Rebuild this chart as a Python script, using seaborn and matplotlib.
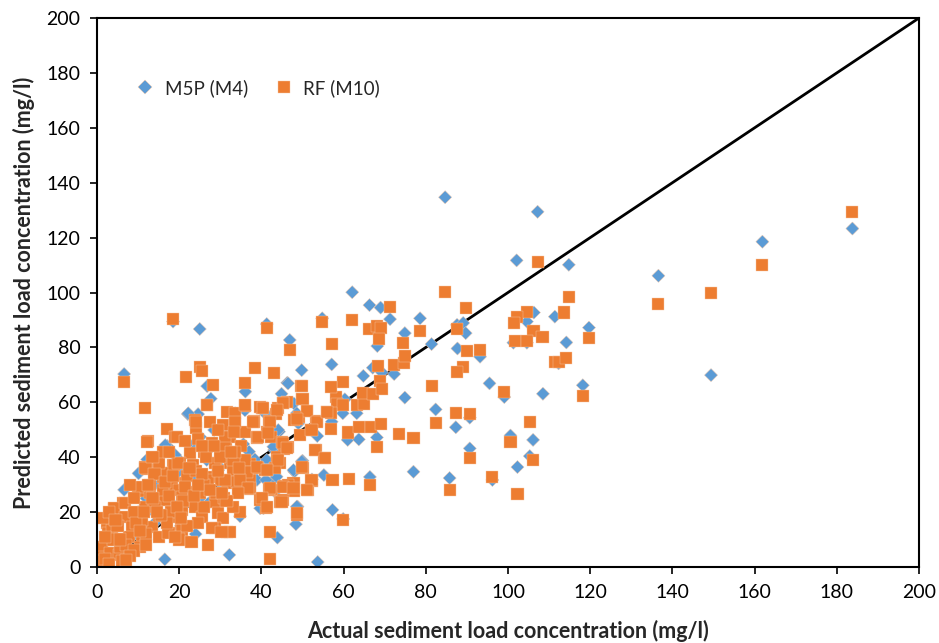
import matplotlib
matplotlib.use("Agg")
import matplotlib.pyplot as plt
import pandas as pd
import seaborn as sns

# M5P (M4) predictions (actual, predicted)
m5p_actual = [
    136.6, 149.4, 161.9, 183.8,
    84.7, 107.2, 102.1, 114.8, 78.6, 111.4, 106.3, 104.6, 119.7, 101.3, 104.6, 114.2,
    112.3, 118.2, 108.5, 95.5, 99.1, 82.4, 87.3, 90.7, 100.6, 106.1, 105.3, 90.7,
    102.3, 85.8, 96.2, 87.6, 89.1, 89.7, 81.4, 87.7, 93.2,
    62.1, 66.3, 69.0, 71.3, 41.3, 54.8, 68.2, 74.9, 46.9, 49.8, 57.1, 46.3, 44.9,
    47.9, 40.7, 44.3, 43.3, 53.6, 57.1, 60.3, 59.8, 63.2, 64.8, 67.1, 69.3, 72.3,
    74.9, 61.0, 63.7, 68.1, 77.0, 50.0, 55.2, 66.4, 52.3, 48.0, 38.9, 42.9, 40.5,
    48.8, 48.4, 57.3, 59.9, 43.9, 53.7, 38.4, 42.1, 43.1, 41.1,
    18.5, 25.0, 6.6, 26.8, 36.1, 27.7, 36.0, 22.1, 24.6, 28.5, 25.1, 17.1, 22.6,
    27.9, 35.6, 19.2, 12.2, 10.1, 27.1, 34.8, 32.2, 16.5, 20.4, 6.6, 7.6, 29.5,
    16.6, 3.3, 13.8, 18.2, 22.2, 33.6, 22.2, 26.7, 39.7, 20.6, 23.8, 29.5, 19.0,
    46.5, 40.9, 48.6, 44.1, 42.9, 41.3, 49.8, 47.8, 43.7, 43.3, 48.6, 49.0,
    9.0, 12.0, 15.0, 5.0, 2.0, 25.0, 30.0, 35.0, 14.0, 32.0, 37.0, 20.0, 10.0, 24.0,
]
m5p_pred = [
    106.1, 69.9, 118.5, 123.3,
    134.7, 129.4, 111.7, 110.1, 90.6, 91.2, 92.7, 89.4, 87.2, 81.7, 81.7, 81.8,
    74.2, 66.2, 63.1, 66.9, 61.9, 57.4, 50.9, 54.4, 47.9, 46.3, 40.4, 43.2,
    36.4, 32.4, 31.7, 88.2, 88.9, 85.2, 81.2, 79.6, 76.6,
    100.1, 95.4, 94.5, 90.3, 88.5, 90.6, 80.5, 85.2, 82.7, 71.7, 73.8, 67.1, 63.1,
    59.6, 56.4, 49.3, 43.8, 47.7, 52.9, 61.1, 56.0, 56.0, 69.6, 72.6, 70.9, 70.3,
    61.7, 46.3, 46.5, 47.2, 34.7, 38.7, 33.5, 32.8, 31.9, 34.7, 31.7, 31.7, 21.4,
    22.0, 15.6, 20.8, 17.5, 10.7, 1.8, 39.2, 37.8, 42.6, 31.7,
    89.4, 86.7, 70.3, 65.9, 63.9, 61.3, 57.1, 55.7, 55.7, 49.9, 47.4, 44.1, 44.1,
    43.8, 44.8, 40.2, 39.2, 34.1, 23.2, 18.5, 4.4, 2.8, 15.0, 28.1, 5.0, 37.0,
    44.4, 16.0, 20.1, 23.2, 56.0, 56.0, 45.1, 39.0, 21.4, 15.9, 32.3, 35.3, 40.8,
    66.9, 56.0, 56.0, 49.9, 43.8, 39.0, 38.4, 35.3, 32.9, 27.4, 22.0, 52.3,
    12.0, 25.0, 30.0, 10.0, 6.0, 25.0, 28.0, 35.0, 16.0, 40.0, 42.0, 35.0, 20.0, 12.0,
]

# RF (M10) predictions (actual, predicted)
rf_actual = [
    136.6, 149.4, 161.9, 183.8,
    107.2, 84.7, 114.8, 89.7, 78.6, 113.6, 104.6, 102.1, 101.4, 119.8, 106.2, 108.4,
    101.8, 104.6, 111.4, 112.5, 114.2, 118.2, 99.1, 81.5, 82.5, 87.3, 90.7, 105.4,
    100.6, 106.1, 90.7, 85.8, 96.2, 102.3, 87.6, 90.1, 93.2, 89.1, 87.7,
    71.3, 41.4, 54.8, 62.0, 66.3, 68.2, 69.2, 68.6, 74.5, 46.9, 57.1, 38.5, 43.1,
    49.7, 49.9, 46.3, 45.2, 44.0, 40.1, 43.6, 51.2, 49.2, 48.0, 53.4, 41.9, 38.3,
    52.1, 49.4, 41.3, 42.4, 39.0, 45.1, 46.4, 45.6, 56.0, 56.9, 58.1, 58.3, 59.9,
    59.8, 56.9, 56.9, 63.2, 65.0, 64.8, 67.2, 68.4, 68.9, 69.4, 72.3, 74.7, 74.9,
    61.1, 63.7, 66.6, 69.0, 68.2, 73.5, 77.0, 50.0, 53.2, 55.3, 57.3, 61.4, 66.4,
    52.3, 51.3, 47.8, 47.8, 45.6, 42.6, 41.8, 40.1, 41.1, 44.5, 45.3, 48.6, 59.9,
    42.1, 42.1, 37.3, 41.3, 43.7, 44.5, 43.3, 37.3, 37.3, 46.5,
    18.5, 6.6, 25.1, 25.5, 21.7, 28.2, 36.1, 26.8, 36.0, 40.2, 11.7, 23.9, 24.1,
    27.5, 31.7, 33.6, 38.2, 30.7, 33.5, 17.0, 19.1, 36.0, 38.9, 12.4, 22.6, 31.4,
    32.4, 23.4, 12.1, 11.7, 18.4, 20.2, 17.8, 16.1, 29.0, 32.4, 33.2, 36.0, 39.2,
    40.9, 27.5, 30.3, 31.6, 34.0, 36.4, 37.2, 28.7, 29.5, 30.7, 34.8, 28.7, 31.6,
    32.4, 20.4, 4.2, 6.4, 10.3,
    12.2, 11.8, 10.1, 13.0, 17.0, 18.7, 18.2, 4.1, 6.9, 6.9, 8.5, 7.7, 10.9, 10.5,
    13.4, 15.0, 17.4, 19.1, 15.0, 11.8, 11.0, 16.6, 19.9, 2.4, 2.8, 2.4, 1.2, 0.8,
    3.2, 5.3, 5.7, 3.6,
    26.8, 36.0, 39.7, 24.0, 33.6, 19.4, 24.6, 31.1, 33.4, 31.1, 33.2, 28.7, 19.8,
    27.1, 31.1, 34.8, 36.8, 21.4, 23.8, 20.6, 34.4, 23.8, 20.6, 25.5, 20.6, 24.6,
    27.9, 30.3, 39.7,
    49.8, 50.0, 45.3, 40.3, 43.7, 51.0, 38.0, 42.1, 48.6, 53.5, 55.9, 39.2, 41.7,
    52.2, 45.3, 46.2, 53.0, 55.5, 44.1, 38.9, 41.3, 49.8, 52.2, 42.1, 45.3, 47.8,
    51.0, 40.1, 44.9, 41.3, 48.6,
    9.0, 12.0, 14.0, 16.0, 18.0, 21.0, 22.0, 25.0, 26.0, 13.0, 15.0, 9.0, 8.0, 24.0,
    26.0, 29.0, 31.0, 33.0, 20.0, 22.0, 17.0, 14.0, 26.0, 30.0, 35.0, 16.0, 28.0,
    5.0, 4.0, 7.0, 1.0, 2.0, 3.0, 6.0, 9.0, 12.0, 8.0,
    9.5, 11.5, 13.5, 15.5, 17.5, 19.5, 21.5, 23.5, 25.5, 27.5, 29.5, 31.5, 33.5,
    10.5, 12.5, 14.5, 16.5, 18.5, 20.5, 22.5, 24.5, 26.5, 28.5, 30.5, 32.5, 34.5,
    13.5, 17.5, 21.5, 25.5, 29.5, 19.0, 23.0, 27.0, 1.5, 3.0, 4.5, 2.0, 5.5, 7.0,
]
rf_pred = [
    95.7, 99.7, 110.1, 129.2,
    111.0, 100.1, 98.5, 94.5, 85.9, 92.7, 92.9, 91.2, 88.8, 83.3, 86.1, 83.9,
    82.4, 82.4, 74.8, 74.8, 76.0, 62.3, 63.6, 65.9, 52.6, 56.1, 55.7, 52.9,
    45.4, 39.0, 39.6, 28.2, 32.8, 26.6, 86.7, 78.6, 78.9, 73.0, 71.2,
    94.6, 87.0, 89.4, 90.1, 86.6, 87.8, 87.1, 82.9, 81.5, 79.2, 81.2, 72.4, 70.8,
    65.8, 61.2, 60.1, 59.9, 57.8, 57.9, 55.6, 56.9, 54.8, 53.7, 53.3, 53.2, 53.1,
    49.9, 48.1, 49.3, 47.5, 47.1, 45.4, 43.8, 42.9, 56.6, 50.2, 62.0, 59.3, 59.0,
    67.5, 65.7, 56.2, 59.0, 59.3, 63.3, 63.0, 73.2, 67.8, 64.8, 73.6, 74.2, 76.9,
    49.0, 51.1, 51.1, 52.1, 43.8, 48.6, 47.1, 36.2, 42.6, 39.6, 31.8, 32.2, 30.0,
    31.4, 28.2, 30.5, 27.8, 29.5, 28.1, 28.3, 24.7, 21.6, 23.6, 24.4, 18.9, 17.1,
    12.9, 2.8, 37.5, 35.3, 40.2, 37.8, 36.0, 31.8, 28.5, 29.9,
    90.3, 67.3, 73.0, 71.3, 69.3, 66.4, 66.9, 58.9, 58.7, 58.0, 57.8, 53.5, 50.5,
    52.7, 56.4, 56.0, 52.9, 51.7, 52.2, 50.4, 47.5, 49.1, 47.5, 46.0, 41.4, 45.0,
    47.2, 37.2, 35.6, 36.5, 37.2, 37.8, 34.1, 32.9, 37.8, 37.8, 35.3, 39.0, 36.0,
    35.3, 32.9, 31.7, 30.5, 31.1, 34.7, 28.7, 23.8, 19.6, 17.7, 19.9, 14.1, 12.6,
    12.6, 13.5, 21.1, 23.2, 27.8,
    45.6, 36.0, 29.3, 26.8, 34.1, 37.2, 29.3, 21.4, 23.2, 18.3, 14.7, 11.0, 9.8, 7.4,
    14.7, 11.0, 12.3, 18.3, 18.7, 22.0, 17.1, 24.4, 28.1, 15.9, 12.3, 9.8, 7.4, 3.8,
    5.0, 4.4, 7.4, 13.6,
    59.0, 59.0, 58.4, 52.9, 52.9, 47.5, 46.5, 47.5, 49.3, 43.2, 39.0, 37.8, 37.8,
    31.7, 31.7, 31.7, 28.7, 30.5, 27.4, 25.6, 26.8, 22.0, 20.8, 18.3, 13.5, 15.9,
    14.1, 12.9, 24.4,
    65.9, 61.1, 59.9, 57.8, 57.2, 56.9, 52.9, 52.9, 53.8, 52.9, 56.6, 47.5, 48.7,
    49.9, 45.1, 43.2, 42.6, 39.6, 39.0, 36.5, 35.3, 36.3, 31.7, 28.7, 29.3, 28.7,
    28.1, 25.0, 23.8, 22.0, 19.6,
    20.0, 12.0, 22.0, 28.0, 20.0, 24.0, 33.0, 27.0, 22.0, 30.0, 38.0, 25.0, 30.0, 35.0,
    42.0, 27.0, 25.0, 22.0, 10.0, 15.0, 16.0, 34.0, 30.0, 40.0, 44.0, 42.0, 45.0,
    15.0, 10.0, 8.0, 2.0, 3.0, 1.0, 2.0, 6.0, 8.0, 4.0,
    16.0, 20.0, 25.0, 19.0, 26.0, 22.0, 29.0, 26.0, 34.0, 28.0, 35.0, 24.0, 42.0,
    13.0, 30.0, 20.0, 31.0, 33.0, 18.0, 36.0, 30.0, 40.0, 44.0, 27.0, 42.0, 36.0,
    40.0, 42.0, 46.0, 44.0, 50.0, 11.0, 9.0, 8.0, 18.0, 20.0, 17.0, 11.0, 10.0, 2.5,
]

series_names = ["M5P (M4)", "RF (M10)"]
x_ticks = list(range(0, 201, 20))
y_ticks = list(range(0, 201, 20))

df = pd.concat([
    pd.DataFrame({"actual": m5p_actual, "predicted": m5p_pred, "model": series_names[0]}),
    pd.DataFrame({"actual": rf_actual, "predicted": rf_pred, "model": series_names[1]}),
], ignore_index=True)

sns.set_style("ticks")
plt.rcParams["font.family"] = ["Lato", "DejaVu Sans"]

fig = plt.figure(figsize=(9.39, 6.43), dpi=100)
ax = fig.add_axes([0.1033, 0.1182, 0.8754, 0.8538])

# 1:1 line
ax.plot([0, 200], [0, 200], color="black", lw=2, zorder=1)

sns.scatterplot(
    data=df, x="actual", y="predicted", hue="model", style="model", size="model",
    markers={series_names[0]: "D", series_names[1]: "s"},
    palette={series_names[0]: "#5B9BD5", series_names[1]: "#ED7D31"},
    sizes={series_names[0]: 45, series_names[1]: 76},
    edgecolor="#f6c7a6", linewidth=0.3, ax=ax, zorder=2,
)

ax.set_xlim(0, 200)
ax.set_ylim(0, 200)
ax.set_xticks(x_ticks)
ax.set_yticks(y_ticks)
ax.tick_params(labelsize=14, length=5, width=1.2, colors="black", pad=7)
for sp in ax.spines.values():
    sp.set_visible(True)
    sp.set_color("black")
    sp.set_linewidth(1.5)

ax.set_xlabel("Actual sediment load concentration (mg/l)", fontsize=15.5, fontweight="bold", labelpad=14)
ax.set_ylabel("Predicted sediment load concentration (mg/l)", fontsize=15.5, fontweight="bold", labelpad=8)

handles, labels = ax.get_legend_handles_labels()
ax.legend(handles, labels, loc="upper left", bbox_to_anchor=(0.015, 0.92), ncol=2, frameon=False,
          fontsize=13.5, handletextpad=0.05, columnspacing=0.9, markerscale=1.0)

fig.savefig("out.png", dpi=100)
